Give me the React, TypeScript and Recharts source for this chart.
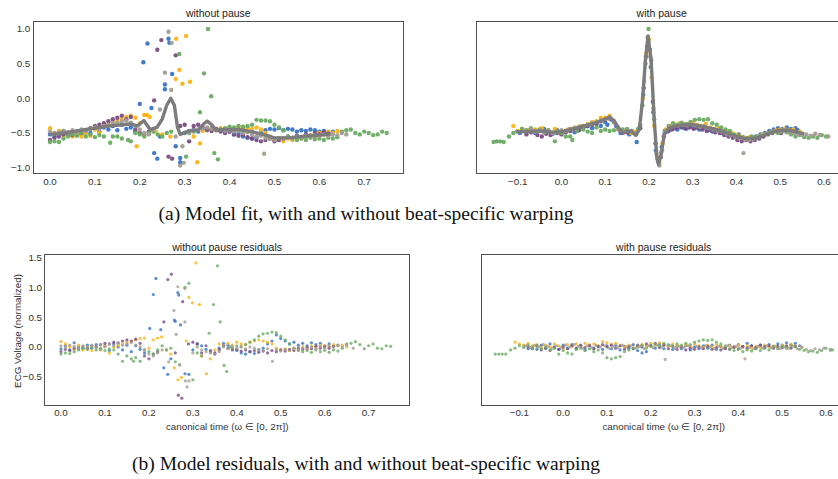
import React from "react";
import { ScatterChart, Scatter, XAxis, YAxis } from "recharts";

type Pt = [number, number];

// ---- (a) model fit, without pause ----
const fitNoPauseLine: Pt[] = [[0,-0.52],[0.02,-0.51],[0.05,-0.48],[0.08,-0.45],[0.1,-0.43],[0.13,-0.4],[0.16,-0.38],[0.18,-0.37],[0.195,-0.4],[0.209,-0.32],[0.223,-0.45],[0.238,-0.42],[0.25,-0.3],[0.26,-0.1],[0.269,0.0],[0.277,-0.1],[0.284,-0.42],[0.29,-0.52],[0.31,-0.47],[0.33,-0.46],[0.342,-0.37],[0.35,-0.33],[0.36,-0.38],[0.37,-0.46],[0.39,-0.45],[0.42,-0.45],[0.45,-0.48],[0.48,-0.53],[0.5,-0.57],[0.53,-0.57],[0.56,-0.55],[0.6,-0.53],[0.625,-0.52]];
const fitNoPauseBlue: Pt[] = [[0,-0.52],[0.01,-0.55],[0.02,-0.5],[0.03,-0.47],[0.04,-0.52],[0.05,-0.5],[0.06,-0.48],[0.07,-0.52],[0.08,-0.46],[0.09,-0.5],[0.1,-0.44],[0.11,-0.48],[0.12,-0.42],[0.13,-0.45],[0.14,-0.4],[0.15,-0.46],[0.16,-0.38],[0.17,-0.44],[0.18,-0.42],[0.19,-0.48],[0.2,-0.08],[0.208,0.52],[0.217,0.79],[0.226,-0.14],[0.232,-0.79],[0.239,-0.87],[0.245,-0.55],[0.256,0.2],[0.256,0.13],[0.264,0.86],[0.266,0.8],[0.272,0.35],[0.28,-0.69],[0.29,-0.86],[0.29,-0.92],[0.3,-0.5],[0.31,-0.47],[0.32,-0.45],[0.33,-0.48],[0.34,-0.44],[0.35,-0.46],[0.36,-0.43],[0.37,-0.45],[0.38,-0.47],[0.39,-0.49],[0.4,-0.48],[0.41,-0.52],[0.42,-0.5],[0.43,-0.55],[0.44,-0.57],[0.45,-0.58],[0.46,-0.56],[0.47,-0.5],[0.48,-0.46],[0.49,-0.44],[0.5,-0.45],[0.51,-0.43],[0.52,-0.46],[0.53,-0.44],[0.54,-0.45],[0.55,-0.48],[0.56,-0.46],[0.57,-0.47],[0.58,-0.45],[0.59,-0.46],[0.6,-0.48],[0.61,-0.47],[0.62,-0.49],[0.63,-0.48]];
const fitNoPauseOrange: Pt[] = [[0,-0.43],[0.01,-0.5],[0.02,-0.47],[0.03,-0.53],[0.04,-0.5],[0.05,-0.55],[0.06,-0.52],[0.07,-0.55],[0.08,-0.5],[0.09,-0.54],[0.1,-0.45],[0.11,-0.5],[0.12,-0.4],[0.13,-0.38],[0.14,-0.35],[0.15,-0.33],[0.16,-0.3],[0.17,-0.27],[0.18,-0.25],[0.19,-0.28],[0.193,-0.69],[0.2,-0.36],[0.21,-0.24],[0.216,-0.24],[0.222,-0.27],[0.235,-0.48],[0.25,-0.52],[0.268,-0.55],[0.28,0.28],[0.281,0.86],[0.288,0.41],[0.295,0.21],[0.303,0.9],[0.312,0.24],[0.32,-0.55],[0.328,-0.92],[0.334,-0.65],[0.34,-0.47],[0.35,-0.45],[0.36,-0.44],[0.37,-0.46],[0.38,-0.43],[0.39,-0.45],[0.4,-0.42],[0.41,-0.44],[0.42,-0.41],[0.43,-0.43],[0.44,-0.42],[0.45,-0.44],[0.46,-0.42],[0.47,-0.45],[0.48,-0.5],[0.49,-0.55],[0.5,-0.6],[0.51,-0.58],[0.52,-0.62],[0.53,-0.58],[0.54,-0.6],[0.55,-0.56],[0.56,-0.58],[0.57,-0.55],[0.58,-0.53],[0.59,-0.55],[0.6,-0.5],[0.61,-0.52],[0.62,-0.48],[0.63,-0.5],[0.64,-0.47],[0.65,-0.49]];
const fitNoPausePurple: Pt[] = [[0,-0.6],[0.01,-0.57],[0.02,-0.55],[0.03,-0.52],[0.04,-0.5],[0.05,-0.53],[0.06,-0.48],[0.07,-0.5],[0.08,-0.46],[0.09,-0.43],[0.1,-0.4],[0.11,-0.38],[0.12,-0.36],[0.13,-0.33],[0.14,-0.3],[0.15,-0.28],[0.16,-0.25],[0.17,-0.3],[0.18,-0.27],[0.19,-0.45],[0.2,-0.5],[0.21,-0.52],[0.22,-0.48],[0.232,-0.03],[0.239,0.7],[0.248,0.84],[0.264,-0.84],[0.272,-0.87],[0.28,0.62],[0.29,-0.4],[0.3,-0.38],[0.31,-0.62],[0.32,-0.4],[0.33,-0.38],[0.34,-0.42],[0.35,-0.45],[0.36,-0.47],[0.37,-0.44],[0.38,-0.48],[0.39,-0.5],[0.4,-0.48],[0.41,-0.52],[0.42,-0.54],[0.43,-0.52],[0.44,-0.56],[0.45,-0.58],[0.46,-0.6],[0.47,-0.62],[0.48,-0.6],[0.49,-0.58],[0.5,-0.62],[0.51,-0.6],[0.52,-0.58],[0.53,-0.55],[0.54,-0.57],[0.55,-0.54],[0.56,-0.56],[0.57,-0.52],[0.58,-0.54],[0.59,-0.5],[0.6,-0.52],[0.61,-0.49],[0.62,-0.51]];
const fitNoPauseGreen: Pt[] = [[0,-0.63],[0.01,-0.62],[0.02,-0.63],[0.03,-0.58],[0.04,-0.55],[0.05,-0.52],[0.06,-0.54],[0.07,-0.5],[0.08,-0.55],[0.09,-0.52],[0.1,-0.56],[0.11,-0.53],[0.12,-0.55],[0.134,-0.64],[0.14,-0.55],[0.15,-0.55],[0.16,-0.58],[0.174,-0.6],[0.18,-0.62],[0.19,-0.5],[0.2,-0.52],[0.21,-0.55],[0.22,-0.5],[0.23,-0.48],[0.24,-0.52],[0.25,-0.55],[0.26,-0.5],[0.27,-0.48],[0.288,0.64],[0.303,-0.84],[0.31,-0.5],[0.32,-0.48],[0.334,-0.2],[0.343,0.36],[0.352,1.0],[0.359,0.03],[0.366,-0.79],[0.374,-0.88],[0.38,-0.45],[0.39,-0.43],[0.4,-0.41],[0.41,-0.42],[0.42,-0.4],[0.43,-0.41],[0.44,-0.4],[0.45,-0.38],[0.46,-0.31],[0.47,-0.32],[0.48,-0.32],[0.49,-0.33],[0.5,-0.38],[0.51,-0.42],[0.52,-0.46],[0.53,-0.55],[0.54,-0.58],[0.55,-0.6],[0.56,-0.58],[0.57,-0.6],[0.58,-0.57],[0.59,-0.59],[0.6,-0.58],[0.61,-0.6],[0.62,-0.57],[0.63,-0.58],[0.64,-0.56],[0.65,-0.48],[0.66,-0.46],[0.67,-0.45],[0.68,-0.5],[0.69,-0.52],[0.7,-0.48],[0.71,-0.5],[0.72,-0.53],[0.73,-0.52],[0.74,-0.48],[0.75,-0.5]];
const fitNoPauseGray: Pt[] = [[0,-0.48],[0.01,-0.5],[0.02,-0.49],[0.03,-0.47],[0.04,-0.49],[0.05,-0.46],[0.06,-0.48],[0.07,-0.45],[0.08,-0.47],[0.09,-0.44],[0.1,-0.42],[0.11,-0.44],[0.12,-0.4],[0.13,-0.38],[0.14,-0.36],[0.15,-0.35],[0.16,-0.33],[0.17,-0.32],[0.18,-0.35],[0.19,-0.4],[0.2,-0.45],[0.21,-0.5],[0.22,-0.52],[0.23,-0.45],[0.245,-0.16],[0.256,0.37],[0.264,0.96],[0.27,0.12],[0.271,0.8],[0.28,-0.55],[0.29,-0.97],[0.295,-0.69],[0.298,-0.93],[0.31,-0.48],[0.32,-0.46],[0.33,-0.45],[0.34,-0.44],[0.35,-0.42],[0.36,-0.44],[0.37,-0.46],[0.38,-0.45],[0.39,-0.47],[0.4,-0.46],[0.41,-0.48],[0.42,-0.47],[0.43,-0.5],[0.44,-0.49],[0.45,-0.52],[0.46,-0.55],[0.47,-0.54],[0.477,-0.8],[0.48,-0.57],[0.49,-0.58],[0.5,-0.6],[0.51,-0.57],[0.52,-0.58],[0.53,-0.56],[0.54,-0.57],[0.55,-0.55],[0.56,-0.56],[0.57,-0.54],[0.58,-0.55],[0.59,-0.53],[0.6,-0.55],[0.61,-0.52],[0.62,-0.54],[0.63,-0.52],[0.64,-0.53],[0.65,-0.5],[0.66,-0.52]];

// ---- (a) model fit, with pause ----
const fitPauseLine: Pt[] = [[-0.105,-0.48],[-0.08,-0.48],[-0.05,-0.47],[-0.02,-0.49],[0,-0.48],[0.02,-0.45],[0.05,-0.4],[0.08,-0.35],[0.1,-0.3],[0.11,-0.27],[0.12,-0.32],[0.13,-0.42],[0.14,-0.5],[0.15,-0.47],[0.16,-0.48],[0.17,-0.53],[0.178,-0.45],[0.185,-0.05],[0.192,0.55],[0.198,0.9],[0.205,0.55],[0.212,-0.3],[0.218,-0.85],[0.222,-0.95],[0.228,-0.8],[0.235,-0.52],[0.245,-0.43],[0.26,-0.4],[0.28,-0.38],[0.3,-0.38],[0.32,-0.4],[0.34,-0.43],[0.36,-0.46],[0.38,-0.5],[0.4,-0.55],[0.42,-0.58],[0.44,-0.58],[0.46,-0.54],[0.48,-0.49],[0.5,-0.46],[0.52,-0.46],[0.54,-0.49],[0.555,-0.51]];
const fitPauseBlue: Pt[] = [[-0.095,-0.5],[-0.08,-0.48],[-0.07,-0.46],[-0.06,-0.5],[-0.05,-0.47],[-0.04,-0.44],[-0.03,-0.48],[-0.02,-0.51],[-0.01,-0.46],[0,-0.5],[0.01,-0.47],[0.02,-0.44],[0.03,-0.49],[0.04,-0.43],[0.05,-0.42],[0.06,-0.4],[0.07,-0.43],[0.08,-0.37],[0.09,-0.4],[0.1,-0.34],[0.105,-0.38],[0.115,-0.31],[0.125,-0.4],[0.135,-0.5],[0.145,-0.48],[0.155,-0.52],[0.165,-0.5],[0.172,-0.63],[0.18,-0.4],[0.187,0.05],[0.193,0.6],[0.198,0.82],[0.204,0.45],[0.21,-0.2],[0.216,-0.75],[0.222,-0.92],[0.229,-0.7],[0.236,-0.5],[0.245,-0.47],[0.255,-0.44],[0.265,-0.45],[0.275,-0.42],[0.285,-0.44],[0.295,-0.41],[0.305,-0.43],[0.315,-0.45],[0.325,-0.42],[0.335,-0.46],[0.345,-0.48],[0.355,-0.46],[0.365,-0.5],[0.375,-0.52],[0.385,-0.5],[0.395,-0.55],[0.405,-0.52],[0.415,-0.56],[0.425,-0.58],[0.435,-0.56],[0.445,-0.55],[0.455,-0.52],[0.465,-0.5],[0.475,-0.47],[0.485,-0.45],[0.495,-0.43],[0.505,-0.44],[0.515,-0.42],[0.525,-0.44],[0.535,-0.43],[0.54,-0.46]];
const fitPauseOrange: Pt[] = [[-0.11,-0.4],[-0.1,-0.47],[-0.09,-0.44],[-0.075,-0.46],[-0.06,-0.45],[-0.045,-0.43],[-0.03,-0.46],[-0.015,-0.44],[0,-0.47],[0.015,-0.45],[0.03,-0.42],[0.045,-0.4],[0.06,-0.37],[0.07,-0.34],[0.08,-0.33],[0.09,-0.28],[0.1,-0.28],[0.11,-0.25],[0.12,-0.33],[0.13,-0.45],[0.14,-0.48],[0.15,-0.45],[0.16,-0.5],[0.17,-0.48],[0.178,-0.42],[0.186,0],[0.194,0.65],[0.2,0.85],[0.206,0.3],[0.212,-0.4],[0.219,-0.85],[0.224,-0.93],[0.231,-0.65],[0.238,-0.45],[0.25,-0.4],[0.26,-0.38],[0.27,-0.36],[0.28,-0.38],[0.29,-0.37],[0.3,-0.35],[0.31,-0.38],[0.32,-0.4],[0.33,-0.37],[0.34,-0.42],[0.35,-0.44],[0.36,-0.43],[0.37,-0.47],[0.38,-0.48],[0.39,-0.5],[0.4,-0.53],[0.41,-0.55],[0.42,-0.57],[0.43,-0.56],[0.44,-0.58],[0.45,-0.55],[0.46,-0.52],[0.47,-0.5],[0.48,-0.48],[0.49,-0.46],[0.5,-0.45],[0.51,-0.44],[0.52,-0.46],[0.53,-0.45],[0.545,-0.48]];
const fitPausePurple: Pt[] = [[-0.08,-0.52],[-0.07,-0.49],[-0.055,-0.53],[-0.045,-0.55],[-0.035,-0.51],[-0.025,-0.53],[-0.01,-0.5],[0,-0.52],[0.01,-0.49],[0.02,-0.47],[0.03,-0.45],[0.04,-0.46],[0.05,-0.42],[0.06,-0.4],[0.07,-0.38],[0.08,-0.36],[0.09,-0.33],[0.1,-0.31],[0.11,-0.29],[0.12,-0.34],[0.13,-0.44],[0.14,-0.5],[0.15,-0.49],[0.16,-0.47],[0.17,-0.52],[0.18,-0.43],[0.188,0.15],[0.196,0.75],[0.202,0.7],[0.209,-0.05],[0.215,-0.65],[0.221,-0.9],[0.227,-0.85],[0.234,-0.55],[0.242,-0.48],[0.252,-0.45],[0.262,-0.43],[0.272,-0.41],[0.282,-0.43],[0.292,-0.42],[0.302,-0.44],[0.312,-0.42],[0.322,-0.45],[0.332,-0.47],[0.342,-0.46],[0.352,-0.49],[0.362,-0.5],[0.372,-0.53],[0.382,-0.55],[0.392,-0.57],[0.402,-0.6],[0.412,-0.62],[0.422,-0.6],[0.432,-0.62],[0.442,-0.6],[0.452,-0.58],[0.462,-0.55],[0.472,-0.52],[0.482,-0.5],[0.492,-0.48],[0.502,-0.5],[0.512,-0.47],[0.522,-0.49],[0.532,-0.48]];
const fitPauseGreen: Pt[] = [[-0.155,-0.63],[-0.148,-0.62],[-0.14,-0.62],[-0.132,-0.63],[-0.12,-0.55],[-0.11,-0.5],[-0.1,-0.48],[-0.09,-0.44],[-0.08,-0.46],[-0.07,-0.43],[-0.06,-0.47],[-0.05,-0.45],[-0.04,-0.49],[-0.03,-0.46],[-0.02,-0.5],[-0.015,-0.62],[-0.01,-0.48],[0,-0.5],[0.01,-0.55],[0.02,-0.55],[0.025,-0.6],[0.035,-0.47],[0.05,-0.45],[0.06,-0.48],[0.07,-0.5],[0.08,-0.42],[0.09,-0.47],[0.1,-0.45],[0.11,-0.47],[0.12,-0.46],[0.13,-0.43],[0.14,-0.45],[0.15,-0.44],[0.16,-0.47],[0.175,-0.44],[0.185,-0.1],[0.192,0.5],[0.199,1.0],[0.205,0.55],[0.212,-0.3],[0.22,-0.88],[0.228,-0.78],[0.236,-0.47],[0.245,-0.4],[0.255,-0.36],[0.265,-0.38],[0.275,-0.35],[0.285,-0.37],[0.295,-0.34],[0.305,-0.31],[0.315,-0.3],[0.325,-0.31],[0.335,-0.3],[0.345,-0.36],[0.355,-0.38],[0.365,-0.42],[0.375,-0.45],[0.385,-0.47],[0.395,-0.52],[0.405,-0.55],[0.415,-0.57],[0.425,-0.58],[0.435,-0.55],[0.445,-0.57],[0.455,-0.54],[0.465,-0.52],[0.475,-0.5],[0.485,-0.48],[0.495,-0.5],[0.505,-0.47],[0.515,-0.49],[0.525,-0.52],[0.535,-0.55],[0.545,-0.53],[0.555,-0.56],[0.565,-0.57],[0.575,-0.55],[0.585,-0.57],[0.595,-0.53],[0.605,-0.55]];
const fitPauseGray: Pt[] = [[-0.085,-0.47],[-0.07,-0.45],[-0.06,-0.48],[-0.05,-0.46],[-0.04,-0.49],[-0.03,-0.47],[-0.02,-0.5],[-0.01,-0.48],[0,-0.46],[0.01,-0.47],[0.02,-0.44],[0.03,-0.43],[0.04,-0.41],[0.05,-0.4],[0.06,-0.38],[0.07,-0.36],[0.08,-0.34],[0.09,-0.32],[0.1,-0.3],[0.11,-0.28],[0.12,-0.35],[0.13,-0.45],[0.14,-0.49],[0.15,-0.46],[0.16,-0.47],[0.17,-0.5],[0.18,-0.38],[0.189,0.25],[0.197,0.88],[0.203,0.6],[0.21,-0.15],[0.217,-0.8],[0.224,-0.97],[0.23,-0.75],[0.237,-0.48],[0.247,-0.42],[0.257,-0.4],[0.267,-0.39],[0.277,-0.38],[0.287,-0.39],[0.297,-0.37],[0.307,-0.39],[0.317,-0.41],[0.327,-0.4],[0.337,-0.43],[0.347,-0.45],[0.357,-0.47],[0.367,-0.48],[0.377,-0.51],[0.387,-0.53],[0.397,-0.55],[0.407,-0.57],[0.416,-0.79],[0.42,-0.59],[0.43,-0.6],[0.44,-0.58],[0.45,-0.56],[0.46,-0.53],[0.47,-0.5],[0.48,-0.49],[0.49,-0.47],[0.5,-0.48],[0.51,-0.46],[0.52,-0.49],[0.53,-0.5],[0.54,-0.52],[0.55,-0.53],[0.56,-0.52],[0.57,-0.54],[0.58,-0.51],[0.59,-0.53],[0.61,-0.55]];

// ---- (b) residuals, without pause ----
const resNoPauseBlue: Pt[] = [[0,-0.03],[0.01,0.02],[0.02,-0.05],[0.03,0.07],[0.04,0],[0.05,-0.03],[0.06,0.03],[0.07,-0.02],[0.08,0.04],[0.09,-0.04],[0.1,0.02],[0.11,-0.06],[0.12,0.05],[0.13,0],[0.14,-0.05],[0.15,0.03],[0.16,-0.08],[0.17,0.02],[0.18,-0.04],[0.19,-0.1],[0.202,0.31],[0.21,0.88],[0.216,1.15],[0.227,0.29],[0.234,-0.35],[0.243,-0.46],[0.25,-0.2],[0.258,0.45],[0.26,0.43],[0.266,0.91],[0.268,0.87],[0.272,0.37],[0.282,-0.45],[0.291,-0.46],[0.3,-0.05],[0.31,0.05],[0.32,0.02],[0.33,-0.04],[0.34,-0.08],[0.35,-0.12],[0.36,-0.02],[0.37,0.06],[0.38,0.03],[0.39,-0.03],[0.4,-0.06],[0.41,-0.1],[0.42,-0.12],[0.43,-0.08],[0.44,-0.11],[0.45,-0.05],[0.46,-0.02],[0.47,0.05],[0.48,0.1],[0.49,0.2],[0.5,0.14],[0.51,0.1],[0.52,0.05],[0.53,0.08],[0.54,0.03],[0.55,0.06],[0.56,0.02],[0.57,0.07],[0.58,0.04],[0.59,0.06],[0.6,0.02],[0.61,0.05],[0.62,0.01],[0.63,0.03]];
const resNoPauseOrange: Pt[] = [[0,0.09],[0.01,0.05],[0.02,0],[0.03,-0.04],[0.04,0.03],[0.05,-0.05],[0.06,-0.02],[0.07,-0.06],[0.08,0],[0.09,-0.05],[0.1,0.02],[0.11,-0.1],[0.12,0],[0.13,0.03],[0.14,0.05],[0.15,0.08],[0.16,0.1],[0.17,0.12],[0.18,0.14],[0.19,0.15],[0.2,-0.02],[0.21,0.12],[0.22,0.15],[0.229,0.17],[0.24,-0.05],[0.25,-0.12],[0.258,-0.35],[0.266,-0.55],[0.274,-0.51],[0.285,0.1],[0.291,0.83],[0.299,0.74],[0.307,1.41],[0.315,0.71],[0.32,-0.15],[0.331,-0.45],[0.34,-0.2],[0.35,-0.05],[0.36,0.05],[0.37,0.02],[0.38,0.06],[0.39,0.03],[0.4,0.08],[0.41,0.05],[0.42,0.04],[0.43,0.08],[0.44,0.1],[0.45,0.12],[0.46,0.1],[0.47,0.08],[0.48,0.05],[0.49,-0.02],[0.5,-0.05],[0.51,-0.03],[0.52,-0.06],[0.53,-0.02],[0.54,-0.04],[0.55,0],[0.56,-0.03],[0.57,0.02],[0.58,0],[0.59,0.03],[0.6,0.02],[0.61,0.01],[0.62,0.04],[0.63,0.02],[0.64,0.03],[0.65,0]];
const resNoPausePurple: Pt[] = [[0,-0.08],[0.01,-0.04],[0.02,-0.06],[0.03,-0.02],[0.04,-0.03],[0.05,0],[0.06,-0.02],[0.07,0.02],[0.08,0],[0.09,0.04],[0.1,0.06],[0.11,0.05],[0.12,0.08],[0.13,0.07],[0.14,0.1],[0.15,0.12],[0.16,0.1],[0.17,0.13],[0.18,0.06],[0.19,-0.15],[0.2,-0.2],[0.21,-0.12],[0.22,-0.08],[0.234,0.42],[0.243,1.13],[0.251,1.22],[0.26,-0.1],[0.267,-0.81],[0.275,-0.86],[0.277,0.76],[0.29,0.05],[0.3,0.08],[0.31,0.05],[0.32,-0.1],[0.33,0.02],[0.34,-0.06],[0.35,-0.1],[0.36,-0.05],[0.37,0.02],[0.38,-0.02],[0.39,-0.05],[0.4,-0.04],[0.41,-0.07],[0.42,-0.05],[0.43,-0.08],[0.44,-0.06],[0.45,-0.09],[0.46,-0.07],[0.47,-0.1],[0.48,-0.06],[0.49,-0.08],[0.5,-0.05],[0.51,-0.07],[0.52,-0.04],[0.53,-0.06],[0.54,-0.02],[0.55,-0.04],[0.56,-0.01],[0.57,-0.03],[0.58,0.01],[0.59,-0.02],[0.6,0],[0.61,-0.02],[0.62,0.01]];
const resNoPauseGreen: Pt[] = [[0,-0.12],[0.01,-0.1],[0.02,-0.11],[0.03,-0.08],[0.04,-0.05],[0.05,-0.02],[0.06,-0.04],[0.07,0],[0.08,-0.05],[0.09,-0.02],[0.1,-0.06],[0.11,-0.03],[0.12,-0.05],[0.13,-0.12],[0.14,-0.24],[0.15,-0.15],[0.16,-0.2],[0.165,-0.24],[0.17,-0.18],[0.18,-0.24],[0.19,-0.05],[0.2,-0.08],[0.21,-0.12],[0.22,-0.05],[0.23,0.02],[0.24,-0.05],[0.25,-0.02],[0.26,-0.25],[0.27,-0.3],[0.282,1.0],[0.291,1.07],[0.3,-0.55],[0.31,-0.1],[0.32,-0.15],[0.337,0.23],[0.347,0.71],[0.356,1.36],[0.362,0.42],[0.371,-0.31],[0.377,-0.41],[0.385,0],[0.39,-0.02],[0.4,0.02],[0.41,0],[0.42,0.04],[0.43,0.08],[0.44,0.12],[0.45,0.18],[0.46,0.22],[0.47,0.23],[0.48,0.25],[0.49,0.24],[0.5,0.18],[0.51,0.12],[0.52,0.05],[0.53,-0.02],[0.54,-0.06],[0.55,-0.08],[0.56,-0.06],[0.57,-0.09],[0.58,-0.05],[0.59,-0.08],[0.6,-0.06],[0.61,-0.09],[0.62,-0.05],[0.63,-0.07],[0.64,-0.02],[0.65,0.05],[0.66,0.06],[0.67,0.09],[0.68,0.04],[0.69,-0.03],[0.7,0.02],[0.71,0.05],[0.72,-0.02],[0.73,-0.03],[0.74,0.02],[0.75,0.01]];
const resNoPauseGray: Pt[] = [[0,0.02],[0.01,0],[0.02,0.03],[0.03,0.01],[0.04,-0.02],[0.05,0.02],[0.06,0],[0.07,0.03],[0.08,-0.01],[0.09,0.04],[0.1,0],[0.11,0.05],[0.12,0.02],[0.13,0.06],[0.14,0.03],[0.15,0.05],[0.16,0.07],[0.17,0.03],[0.18,0],[0.19,-0.05],[0.2,-0.12],[0.21,-0.15],[0.22,-0.1],[0.23,-0.05],[0.245,-0.25],[0.257,0.61],[0.262,0.21],[0.266,1.01],[0.27,-0.3],[0.282,0.98],[0.282,0.42],[0.283,-0.57],[0.287,-0.67],[0.291,-0.57],[0.3,-0.1],[0.31,0],[0.32,-0.05],[0.33,-0.08],[0.34,-0.1],[0.35,-0.12],[0.36,-0.08],[0.37,0],[0.38,-0.03],[0.39,0],[0.4,-0.02],[0.41,0.01],[0.42,-0.03],[0.43,0],[0.44,-0.02],[0.45,-0.04],[0.46,-0.06],[0.47,-0.03],[0.481,-0.24],[0.49,-0.05],[0.5,-0.07],[0.51,-0.04],[0.52,-0.06],[0.53,-0.03],[0.54,-0.05],[0.55,-0.02],[0.56,-0.04],[0.57,0],[0.58,-0.03],[0.59,0.01],[0.6,-0.02],[0.61,0.02],[0.62,0],[0.63,0.02],[0.64,0],[0.65,0.03],[0.665,-0.02]];

// ---- (b) residuals, with pause ----
const resPauseBlue: Pt[] = [[-0.09,0.02],[-0.08,-0.03],[-0.07,0.01],[-0.06,-0.04],[-0.05,0.03],[-0.04,-0.02],[-0.03,0.05],[-0.02,0],[-0.01,-0.04],[0,0.03],[0.01,-0.02],[0.02,0.04],[0.03,-0.03],[0.04,0.02],[0.05,-0.05],[0.06,0.03],[0.07,-0.02],[0.08,0.01],[0.09,-0.04],[0.1,0.02],[0.11,-0.03],[0.12,0.03],[0.13,-0.05],[0.14,0.01],[0.15,-0.02],[0.16,0.04],[0.17,-0.06],[0.18,-0.1],[0.19,-0.08],[0.2,0.03],[0.21,-0.02],[0.22,0.05],[0.23,-0.03],[0.24,0.02],[0.25,-0.04],[0.26,0.01],[0.27,-0.03],[0.28,0.02],[0.29,-0.05],[0.3,0],[0.31,-0.03],[0.32,0.02],[0.33,-0.02],[0.34,0.03],[0.35,-0.04],[0.36,0.01],[0.37,-0.03],[0.38,0.03],[0.39,-0.01],[0.4,0.04],[0.41,0],[0.42,0.06],[0.43,0.02],[0.44,-0.02],[0.45,0.03],[0.46,-0.01],[0.47,0.04],[0.48,0.01],[0.49,0.05],[0.5,0.03],[0.51,0.07],[0.52,0.04],[0.53,0.06],[0.54,0.02]];
const resPauseOrange: Pt[] = [[-0.11,0.08],[-0.1,0.05],[-0.09,0.03],[-0.08,0.06],[-0.07,0.02],[-0.06,0.04],[-0.05,-0.01],[-0.04,0.03],[-0.03,0],[-0.02,0.05],[-0.01,0.02],[0,-0.03],[0.01,0.04],[0.02,0.01],[0.03,0.05],[0.04,0.02],[0.05,0.06],[0.06,0.03],[0.07,0.05],[0.08,0.02],[0.09,0.09],[0.1,0.07],[0.11,0.04],[0.12,0.06],[0.13,0.02],[0.14,0],[0.15,0.03],[0.16,-0.02],[0.17,0.01],[0.18,0.04],[0.19,0.02],[0.2,0.06],[0.21,0.03],[0.22,0.07],[0.23,0.04],[0.24,0.01],[0.25,0.05],[0.26,0.02],[0.27,0],[0.28,0.04],[0.29,0.01],[0.3,0.05],[0.31,0.02],[0.32,-0.01],[0.33,0.03],[0.34,0],[0.35,0.04],[0.36,0.01],[0.37,-0.02],[0.38,0.02],[0.39,-0.01],[0.4,0.03],[0.41,0],[0.42,0.02],[0.43,-0.02],[0.44,0.01],[0.45,-0.01],[0.46,0.03],[0.47,0],[0.48,0.02],[0.49,-0.01],[0.5,0.03],[0.51,0.01],[0.52,0.04],[0.53,0.02],[0.545,0]];
const resPausePurple: Pt[] = [[-0.08,0],[-0.07,-0.03],[-0.06,0.02],[-0.05,-0.05],[-0.04,-0.02],[-0.03,-0.06],[-0.02,-0.01],[-0.01,-0.04],[0,0],[0.01,-0.03],[0.02,0.02],[0.03,-0.02],[0.04,0.03],[0.05,-0.01],[0.06,0.02],[0.07,-0.03],[0.08,0.01],[0.09,0.04],[0.1,0],[0.11,0.03],[0.12,-0.02],[0.13,0.02],[0.14,-0.04],[0.15,0],[0.16,-0.03],[0.17,0.03],[0.18,0],[0.19,0.05],[0.2,0.02],[0.21,0.06],[0.22,-0.01],[0.23,0.03],[0.24,-0.03],[0.25,0.01],[0.26,-0.04],[0.27,0],[0.28,-0.05],[0.29,-0.02],[0.3,-0.04],[0.31,0],[0.32,-0.03],[0.33,0.01],[0.34,-0.04],[0.35,-0.01],[0.36,-0.05],[0.37,-0.02],[0.38,-0.04],[0.39,0],[0.4,-0.03],[0.41,0.01],[0.42,-0.02],[0.43,0.02],[0.44,-0.01],[0.45,0.03],[0.46,0],[0.47,0.02],[0.48,-0.02],[0.49,0.01],[0.5,-0.01],[0.51,0.02],[0.52,-0.02],[0.53,0.01]];
const resPauseGreen: Pt[] = [[-0.155,-0.12],[-0.147,-0.12],[-0.139,-0.12],[-0.131,-0.12],[-0.12,-0.05],[-0.11,-0.02],[-0.1,0.02],[-0.09,-0.01],[-0.08,0.03],[-0.07,-0.02],[-0.06,0.01],[-0.05,-0.03],[-0.04,0],[-0.03,-0.05],[-0.02,-0.02],[-0.01,-0.12],[0,-0.06],[0.01,-0.1],[0.02,-0.12],[0.03,-0.04],[0.04,-0.02],[0.05,-0.06],[0.06,-0.03],[0.07,-0.08],[0.08,-0.05],[0.09,-0.1],[0.1,-0.18],[0.11,-0.2],[0.12,-0.18],[0.13,-0.16],[0.14,-0.08],[0.15,-0.05],[0.16,-0.02],[0.17,0],[0.18,0.03],[0.19,-0.02],[0.2,0.01],[0.21,0.05],[0.22,0.02],[0.23,0.06],[0.24,0.04],[0.25,0.02],[0.26,0.05],[0.27,0.03],[0.28,0.06],[0.29,0.04],[0.3,0.08],[0.31,0.1],[0.32,0.12],[0.33,0.11],[0.34,0.12],[0.35,0.08],[0.36,0.05],[0.37,0.02],[0.38,-0.03],[0.39,-0.06],[0.4,-0.04],[0.41,-0.08],[0.42,-0.05],[0.43,-0.07],[0.44,-0.03],[0.45,-0.06],[0.46,-0.02],[0.47,-0.05],[0.48,0],[0.49,-0.03],[0.5,0.01],[0.51,-0.02],[0.52,0.02],[0.53,0],[0.54,-0.04],[0.55,-0.06],[0.56,-0.08],[0.57,-0.07],[0.58,-0.09],[0.59,-0.06],[0.6,-0.02],[0.61,-0.04],[0.615,-0.05]];
const resPauseGray: Pt[] = [[-0.085,0.02],[-0.075,-0.01],[-0.065,0.03],[-0.055,0],[-0.045,0.04],[-0.035,0.01],[-0.025,-0.02],[-0.015,0.02],[-0.005,-0.01],[0.005,0.03],[0.015,0],[0.025,0.04],[0.035,0.01],[0.045,-0.02],[0.055,0.02],[0.065,-0.01],[0.075,0.03],[0.085,0],[0.095,0.02],[0.105,-0.02],[0.115,0.01],[0.125,-0.01],[0.135,0.03],[0.145,0],[0.155,0.02],[0.165,-0.02],[0.175,0.01],[0.185,-0.03],[0.195,0.02],[0.205,-0.01],[0.215,0.03],[0.225,0],[0.233,-0.21],[0.245,0.02],[0.255,-0.02],[0.265,0.01],[0.275,-0.01],[0.285,0.02],[0.295,-0.02],[0.305,0.01],[0.315,-0.01],[0.325,0.02],[0.335,0],[0.345,-0.03],[0.355,0.01],[0.365,-0.02],[0.375,0.02],[0.385,-0.01],[0.395,0.01],[0.405,-0.02],[0.415,-0.2],[0.425,0],[0.435,-0.03],[0.445,0.01],[0.455,-0.02],[0.465,0.02],[0.475,-0.01],[0.485,0.01],[0.495,-0.03],[0.505,0],[0.515,-0.02],[0.525,0.01],[0.535,-0.03],[0.545,-0.01],[0.555,-0.04],[0.565,-0.06],[0.575,-0.03],[0.585,-0.05],[0.595,-0.02],[0.61,-0.06]];

const topYTicks = [-1, -0.5, 0, 0.5, 1];
const bottomYTicks = [-0.5, 0, 0.5, 1, 1.5];
const leftXTicks = [0, 0.1, 0.2, 0.3, 0.4, 0.5, 0.6, 0.7];
const rightXTicks = [-0.1, 0, 0.1, 0.2, 0.3, 0.4, 0.5, 0.6];

const BLUE = "#3574c6";
const ORANGE = "#fdb316";
const PURPLE = "#7b4e82";
const GREEN = "#6aab63";
const GRAY = "#a39d94";
const FIT = "#7c7c7c";

const W = 860;
const H = 479;
const SANS = "'Liberation Sans', Arial, sans-serif";

const fmt = (v: number) => v.toFixed(1).replace("-", "\u2212");
const rows = (pts: Pt[]) => pts.map(([x, y]) => ({ x, y }));

interface Series {
  data: Pt[];
  color: string;
}

interface PanelProps {
  frame: [number, number, number, number];
  xDomain: [number, number];
  yDomain: [number, number];
  xTicks: number[];
  yTicks?: number[];
  title: string;
  titleY: number;
  xLabel?: string;
  series: Series[];
  fit?: Pt[];
  r: number;
  opacity: number;
}

function Panel(p: PanelProps) {
  const [x0, y0, x1, y1] = p.frame;
  const yw = p.yTicks ? x0 - 2 : 0;
  const xh = 20;
  const tickStyle = { fontSize: 9.8, fill: "#333", fontFamily: SANS };
  return (
    <>
      <div style={{ position: "absolute", left: 0, top: 0 }}>
        <ScatterChart
          width={W}
          height={H}
          margin={{ left: x0 - yw, top: y0, right: W - x1, bottom: H - y1 - xh }}
        >
          <XAxis
            type="number"
            dataKey="x"
            domain={p.xDomain}
            ticks={p.xTicks}
            interval={0}
            allowDataOverflow
            axisLine={false}
            tickLine={false}
            tickSize={0}
            tickMargin={4.5}
            height={xh}
            tick={tickStyle}
            tickFormatter={fmt}
          />
          {p.yTicks ? (
            <YAxis
              type="number"
              dataKey="y"
              domain={p.yDomain}
              ticks={p.yTicks}
              interval={0}
              allowDataOverflow
              axisLine={false}
              tickLine={false}
              tickSize={0}
              tickMargin={3}
              width={yw}
              tick={tickStyle}
              tickFormatter={fmt}
            />
          ) : (
            <YAxis type="number" dataKey="y" domain={p.yDomain} allowDataOverflow hide />
          )}
          {p.series.map((s, i) => (
            <Scatter
              key={i}
              data={rows(s.data)}
              fill={s.color}
              isAnimationActive={false}
              shape={(d: any) => (
                <circle cx={d.cx} cy={d.cy} r={p.r} fill={s.color} fillOpacity={p.opacity} />
              )}
            />
          ))}
          {p.fit && (
            <Scatter
              data={rows(p.fit)}
              isAnimationActive={false}
              line={{ stroke: FIT, strokeWidth: 3.4, strokeLinejoin: "round" }}
              shape={() => <g />}
            />
          )}
        </ScatterChart>
      </div>
      <div
        style={{
          position: "absolute",
          left: x0 - 0.8,
          top: y0 - 0.8,
          width: x1 - x0 + 1.6,
          height: y1 - y0 + 1.6,
          border: "1.6px solid #505050",
          boxSizing: "border-box",
        }}
      />
      <div
        style={{
          position: "absolute",
          left: (x0 + x1) / 2,
          top: p.titleY,
          transform: "translate(-50%, -50%)",
          fontFamily: SANS,
          fontSize: 10.5,
          color: "#222",
          whiteSpace: "nowrap",
        }}
      >
        {p.title}
      </div>
      {p.xLabel && (
        <div
          style={{
            position: "absolute",
            left: (x0 + x1) / 2,
            top: 425.7,
            transform: "translate(-50%, -50%)",
            fontFamily: SANS,
            fontSize: 9.8,
            color: "#333",
            whiteSpace: "nowrap",
          }}
        >
          {p.xLabel}
        </div>
      )}
    </>
  );
}

const caption: React.CSSProperties = {
  position: "absolute",
  left: 366,
  transform: "translate(-50%, -50%)",
  fontFamily: "'Liberation Serif', 'Times New Roman', serif",
  fontSize: 19.5,
  color: "#111",
  whiteSpace: "nowrap",
};

export default function App() {
  const xLabel = "canonical time (\u03c9 \u2208 [0, 2\u03c0])";
  return (
    <div
      style={{
        position: "absolute",
        left: 0,
        top: 0,
        width: 838,
        height: 479,
        overflow: "hidden",
        background: "#fff",
      }}
    >
      <Panel
        frame={[33.3, 21.7, 403.3, 173.3]}
        xDomain={[-0.0372, 0.787]}
        yDomain={[-1.081, 1.105]}
        xTicks={leftXTicks}
        yTicks={topYTicks}
        title="without pause"
        titleY={13}
        r={2.2}
        opacity={0.95}
        series={[
          { data: fitNoPauseBlue, color: BLUE },
          { data: fitNoPauseOrange, color: ORANGE },
          { data: fitNoPausePurple, color: PURPLE },
          { data: fitNoPauseGreen, color: GREEN },
          { data: fitNoPauseGray, color: GRAY },
        ]}
        fit={fitNoPauseLine}
      />
      <Panel
        frame={[476.7, 21.7, 846.7, 173.3]}
        xDomain={[-0.1937, 0.652]}
        yDomain={[-1.081, 1.105]}
        xTicks={rightXTicks}
        title="with pause"
        titleY={13}
        r={2.2}
        opacity={0.95}
        series={[
          { data: fitPauseBlue, color: BLUE },
          { data: fitPauseOrange, color: ORANGE },
          { data: fitPausePurple, color: PURPLE },
          { data: fitPauseGreen, color: GREEN },
          { data: fitPauseGray, color: GRAY },
        ]}
        fit={fitPauseLine}
      />
      <Panel
        frame={[45, 255.2, 409.3, 405]}
        xDomain={[-0.0364, 0.7925]}
        yDomain={[-0.974, 1.539]}
        xTicks={leftXTicks}
        yTicks={bottomYTicks}
        title="without pause residuals"
        titleY={246.7}
        xLabel={xLabel}
        r={1.6}
        opacity={0.8}
        series={[
          { data: resNoPauseBlue, color: BLUE },
          { data: resNoPauseOrange, color: ORANGE },
          { data: resNoPausePurple, color: PURPLE },
          { data: resNoPauseGreen, color: GREEN },
          { data: resNoPauseGray, color: GRAY },
        ]}
      />
      <Panel
        frame={[481.7, 255.2, 845.7, 405]}
        xDomain={[-0.186, 0.645]}
        yDomain={[-0.974, 1.539]}
        xTicks={rightXTicks}
        title="with pause residuals"
        titleY={246.7}
        xLabel={xLabel}
        r={1.6}
        opacity={0.8}
        series={[
          { data: resPauseBlue, color: BLUE },
          { data: resPauseOrange, color: ORANGE },
          { data: resPausePurple, color: PURPLE },
          { data: resPauseGreen, color: GREEN },
          { data: resPauseGray, color: GRAY },
        ]}
      />
      <div
        style={{
          position: "absolute",
          left: 17,
          top: 331,
          transform: "translate(-50%, -50%) rotate(-90deg)",
          fontFamily: SANS,
          fontSize: 9.8,
          color: "#333",
          whiteSpace: "nowrap",
        }}
      >
        ECG Voltage (normalized)
      </div>
      <div style={{ ...caption, top: 213.5 }}>
        (a) Model fit, with and without beat-specific warping
      </div>
      <div style={{ ...caption, top: 463.5 }}>
        (b) Model residuals, with and without beat-specific warping
      </div>
    </div>
  );
}
